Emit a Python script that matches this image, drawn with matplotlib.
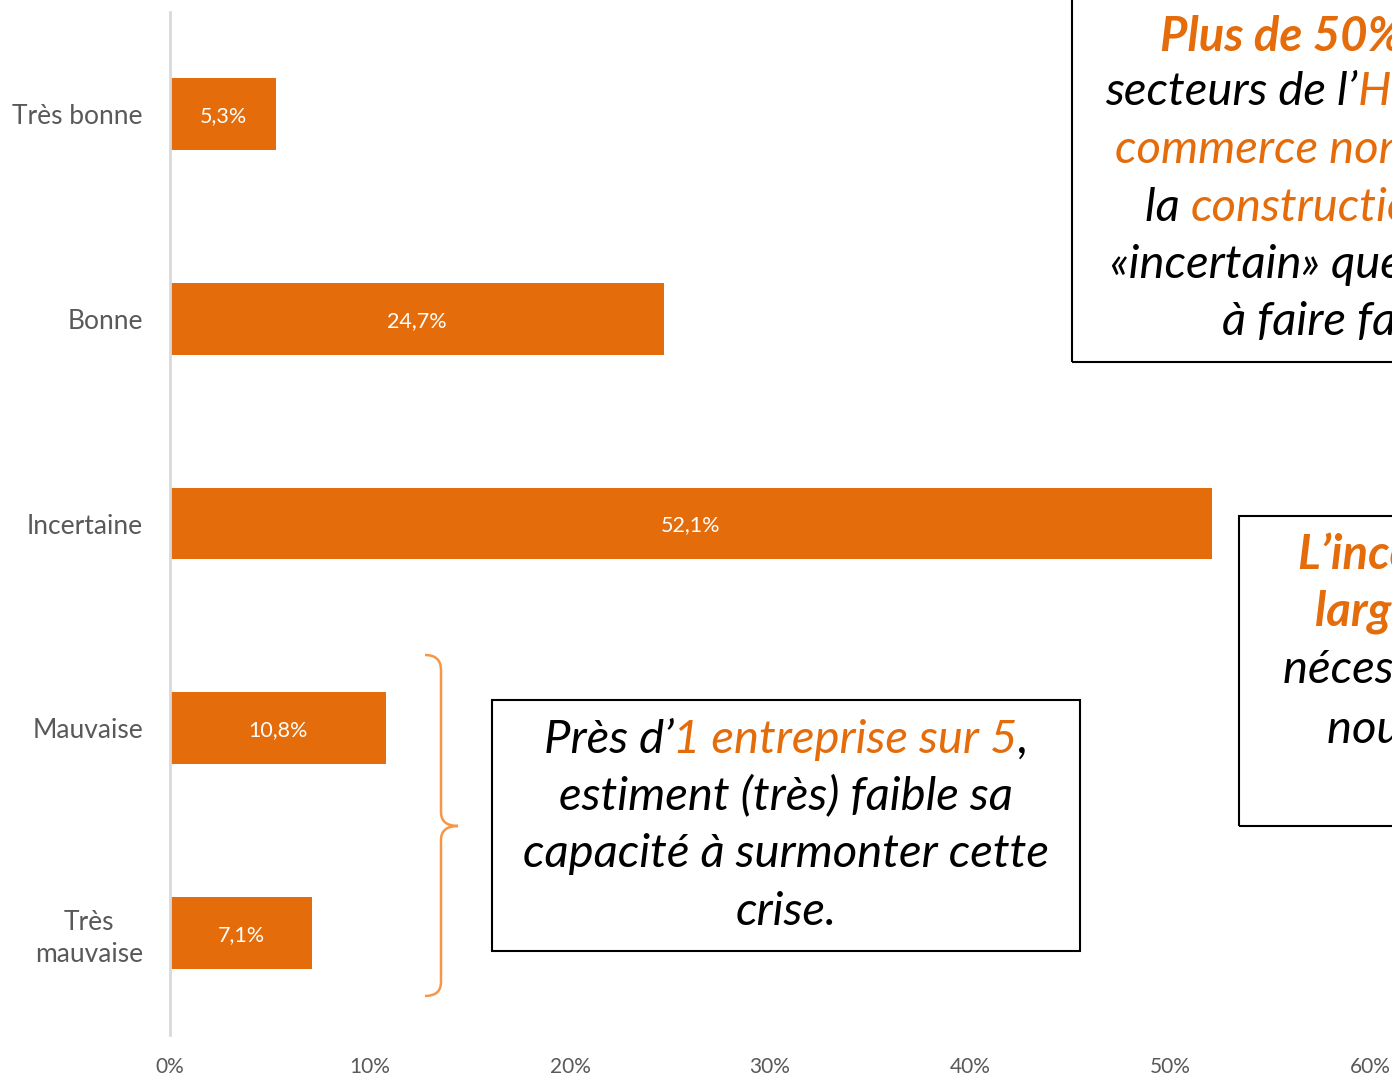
import matplotlib
matplotlib.use("Agg")
import matplotlib.pyplot as plt
from matplotlib.patches import Rectangle, PathPatch
from matplotlib.path import Path

# ---------------- data ----------------
categories = ["Très bonne", "Bonne", "Incertaine", "Mauvaise", "Très\nmauvaise"]
values = [5.3, 24.7, 52.1, 10.8, 7.1]
value_labels = ["5,3%", "24,7%", "52,1%", "10,8%", "7,1%"]
xticks = [0, 10, 20, 30, 40, 50, 60]
xtick_labels = ["0%", "10%", "20%", "30%", "40%", "50%", "60%"]

ORANGE = "#E46C0A"
BRACE = "#F79646"
GREY = "#595959"

box1_lines = [
    [("Plus de 50% des entreprises des", ORANGE, "bold")],
    [("secteurs de l’", "black", "normal"), ("HORECA", ORANGE, "normal"), (", du", "black", "normal")],
    [("commerce non-alimentaire", ORANGE, "normal"), (" et de", "black", "normal")],
    [("la ", "black", "normal"), ("construction", ORANGE, "normal"), (" jugent", "black", "normal")],
    [("«incertain» que leur capacité", "black", "normal")],
    [("à faire face à la crise.", "black", "normal")],
]
box2_lines = [
    [("Près d’", "black", "normal"), ("1 entreprise sur 5", ORANGE, "normal"), (",", "black", "normal")],
    [("estiment (très) faible sa", "black", "normal")],
    [("capacité à surmonter cette", "black", "normal")],
    [("crise.", "black", "normal")],
]
box3_lines = [
    [("L’incertitude est", ORANGE, "bold")],
    [("largement partagée", ORANGE, "bold")],
    [("nécessitant de", "black", "normal")],
    [("nouvelles mesures", "black", "normal")],
]

W, H = 1392, 1078
plt.rcParams["font.family"] = ["Lato", "DejaVu Sans"]
fig = plt.figure(figsize=(W / 100, H / 100), dpi=100)

def fx(x):
    return x / W

def fy(y):
    return 1 - y / H

ax = fig.add_axes([fx(170), fy(1035), fx(1370) - fx(170), fy(12) - fy(1035)])
ypos = list(range(len(categories)))
bars = ax.barh(ypos, values, height=0.35, color=ORANGE)
for b, lab in zip(bars, value_labels):
    ax.text(b.get_x() + b.get_width() / 2, b.get_y() + b.get_height() / 2 + 0.01, lab,
            ha="center", va="center", color="white", fontsize=15.5)
ax.set_ylim(len(categories) - 0.5, -0.5)
ax.set_xlim(0, 60)
ax.set_yticks(ypos)
ax.set_yticklabels(categories, fontsize=19, color=GREY, multialignment="center",
                   linespacing=1.35)
ax.set_xticks(xticks)
ax.set_xticklabels(xtick_labels, fontsize=15, color=GREY)
ax.tick_params(axis="both", length=0)
ax.tick_params(axis="y", pad=19.5)
ax.tick_params(axis="x", pad=16)
for s in ["top", "right", "bottom"]:
    ax.spines[s].set_visible(False)
ax.spines["left"].set_color("#D9D9D9")
ax.spines["left"].set_linewidth(2)

# ---------------- text boxes ----------------
def add_box(x0, y0, x1, y1):
    r = Rectangle((fx(x0), fy(y1)), fx(x1) - fx(x0), fy(y0) - fy(y1), transform=fig.transFigure,
                  fill=False, edgecolor="black", linewidth=1.5, zorder=5, clip_on=False)
    fig.patches.append(r)

renderer = fig.canvas.get_renderer()
FS = 34

def draw_line(segs, x, y, ha="left"):
    texts = []
    widths = []
    for t, c, w in segs:
        tt = fig.text(0, 0, t, color=c, fontweight=w, fontstyle="italic", fontsize=FS,
                      va="center", ha="left")
        widths.append(tt.get_window_extent(renderer).width)
        texts.append(tt)
    total = sum(widths)
    start = x - total / 2 if ha == "center" else x
    for tt, w in zip(texts, widths):
        tt.set_position((fx(start), fy(y)))
        start += w

add_box(1072, -10, 1420, 362)
for segs, x, y in zip(box1_lines, [1160, 1105, 1115, 1145, 1110, 1222], [37, 92, 150, 208, 265, 322]):
    draw_line(segs, x, y)

add_box(492, 700, 1080, 951)
for segs, y in zip(box2_lines, [740, 796, 854, 912]):
    draw_line(segs, 786, y, ha="center")

add_box(1239, 516, 1420, 826)
for segs, x, y in zip(box3_lines, [1298, 1315, 1283, 1327], [555, 612, 670, 730]):
    draw_line(segs, x, y)

# ---------------- brace ----------------
def P(x, y):
    return (fx(x), fy(y))

verts = [P(425, 655), P(441, 655), P(441, 670),
         P(441, 812), P(441, 826), P(458, 826),
         P(441, 826), P(441, 840),
         P(441, 982), P(441, 996), P(425, 996)]
codes = [Path.MOVETO, Path.CURVE3, Path.CURVE3,
         Path.LINETO, Path.CURVE3, Path.CURVE3,
         Path.CURVE3, Path.CURVE3,
         Path.LINETO, Path.CURVE3, Path.CURVE3]
fig.patches.append(PathPatch(Path(verts, codes), transform=fig.transFigure, fill=False,
                             edgecolor=BRACE, linewidth=1.8))

fig.savefig("out.png", dpi=100)
